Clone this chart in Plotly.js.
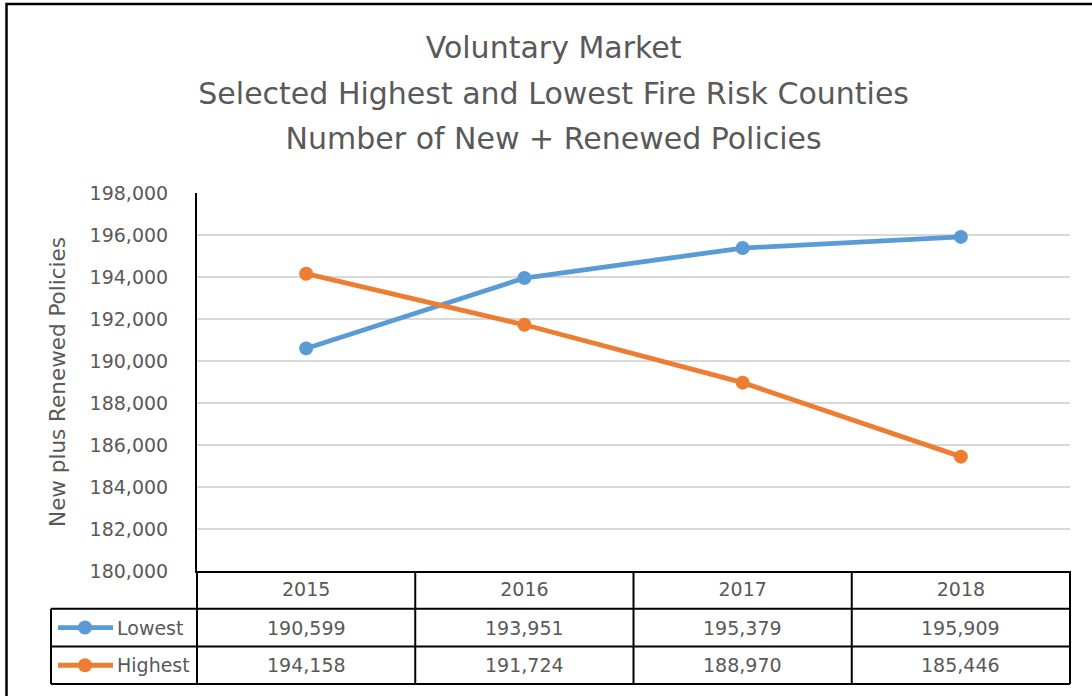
<!DOCTYPE html>
<html>
<head>
<meta charset="utf-8">
<script src="https://cdn.plot.ly/plotly-3.0.1.min.js"></script>
<style>html,body{margin:0;padding:0;background:#fff;}#chart{width:1092px;height:696px;}</style>
</head>
<body>
<div id="chart"></div>
<script>
const years = ['2015', '2016', '2017', '2018'];
const lowest = [190599, 193951, 195379, 195909];
const highest = [194158, 191724, 188970, 185446];
const seriesNames = ['Lowest', 'Highest'];
const seriesColors = ['#5b9bd5', '#ed7d31'];
const yTickVals = [180000, 182000, 184000, 186000, 188000, 190000, 192000, 194000, 196000, 198000];

const W = 1092, H = 696;
const ML = 197, MR = 22, MT = 193, MB = 125;
const PW = W - ML - MR, PH = H - MT - MB;
const px2x = p => (p - ML) / PW;
const py2y = p => (MT + PH - p) / PH;
const rowH = 37.7 / PH;
const labelLeft = px2x(51);
const FONT = 'DejaVu Sans, Arial, sans-serif';
const TXT = '#595959';
const LINE = '#000000';

const series = [lowest, highest];
const traces = series.map((vals, i) => ({
  type: 'scatter', mode: 'lines+markers', x: years, y: vals, name: seriesNames[i],
  line: {color: seriesColors[i], width: 4.8},
  marker: {color: seriesColors[i], size: 14},
  hoverinfo: 'x+y'
}));

const shapes = [];
const annotations = [];
// outer chart border
shapes.push({type: 'rect', xref: 'paper', yref: 'paper', x0: px2x(6.5), x1: px2x(1110), y0: py2y(4), y1: py2y(720),
  line: {color: LINE, width: 2.5}, fillcolor: 'rgba(0,0,0,0)', layer: 'below'});
// table vertical lines at category boundaries
const nCat = years.length;
for (let i = 0; i <= nCat; i++) {
  const xp = i / nCat;
  shapes.push({type: 'line', xref: 'paper', yref: 'paper', x0: xp, x1: xp, y0: 0, y1: -3 * rowH, line: {color: LINE, width: 2}});
}
// header bottom & row lines
for (let r = 1; r <= 3; r++) {
  shapes.push({type: 'line', xref: 'paper', yref: 'paper', x0: labelLeft, x1: 1, y0: -r * rowH, y1: -r * rowH, line: {color: LINE, width: 2}});
}
// label column left line
shapes.push({type: 'line', xref: 'paper', yref: 'paper', x0: labelLeft, x1: labelLeft, y0: -rowH, y1: -3 * rowH, line: {color: LINE, width: 2}});

series.forEach((vals, s) => {
  const yc = -(s + 1.5) * rowH;
  // legend key line + marker
  shapes.push({type: 'line', xref: 'paper', yref: 'paper', x0: px2x(58), x1: px2x(113), y0: yc, y1: yc,
    line: {color: seriesColors[s], width: 4.8}});
  shapes.push({type: 'circle', xref: 'paper', yref: 'paper', x0: px2x(78), x1: px2x(92), y0: yc + 7 / PH, y1: yc - 7 / PH,
    line: {color: seriesColors[s], width: 0}, fillcolor: seriesColors[s]});
  annotations.push({xref: 'paper', yref: 'paper', x: px2x(115), y: yc, xanchor: 'left', yanchor: 'middle',
    text: seriesNames[s], showarrow: false, font: {family: FONT, size: 19, color: TXT}});
  vals.forEach((v, i) => {
    annotations.push({xref: 'x', yref: 'paper', x: i, y: yc, xanchor: 'center', yanchor: 'middle',
      text: v.toLocaleString('en-US'), showarrow: false, font: {family: FONT, size: 19, color: TXT}});
  });
});

const layout = {
  width: W, height: H,
  margin: {l: ML, r: MR, t: MT, b: MB},
  paper_bgcolor: '#ffffff', plot_bgcolor: '#ffffff',
  showlegend: false,
  title: {
    text: '<span style="font-size:30px">Voluntary Market</span><br><span style="font-size:30px">Selected Highest and Lowest Fire Risk Counties</span><br><span style="font-size:30px">Number of New + Renewed Policies</span>',
    font: {family: FONT, size: 35, color: TXT},
    x: 0.507, xref: 'container', xanchor: 'center',
    y: 1 - 58 / H, yref: 'container', yanchor: 'top'
  },
  xaxis: {
    type: 'category', categoryorder: 'array', categoryarray: years,
    range: [-0.5, nCat - 0.5], showgrid: false, zeroline: false,
    showline: true, linecolor: LINE, linewidth: 2,
    ticks: '', showticklabels: true, ticklabelstandoff: 0,
    tickfont: {family: FONT, size: 19, color: TXT}
  },
  yaxis: {
    range: [180000, 198000], tickvals: yTickVals, tickformat: ',',
    showgrid: true, gridcolor: '#d9d9d9', gridwidth: 1.5, zeroline: false,
    showline: true, linecolor: LINE, linewidth: 2,
    ticks: '', ticklabelstandoff: 23,
    tickfont: {family: FONT, size: 19, color: TXT},
    title: {text: 'New plus Renewed Policies', font: {family: FONT, size: 21.5, color: TXT}, standoff: 18}
  },
  shapes: shapes,
  annotations: annotations
};

Plotly.newPlot('chart', traces, layout, {displayModeBar: false, responsive: false});
</script>
</body>
</html>
